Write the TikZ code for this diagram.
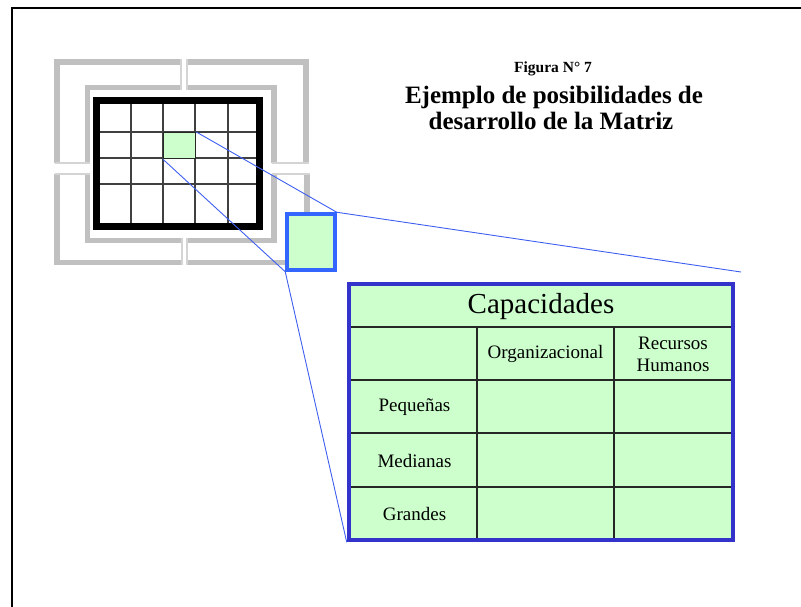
\documentclass[tikz,border=0pt]{standalone}
\usepackage{fontspec}
\setmainfont{Liberation Serif}
\definecolor{lgray}{HTML}{C0C0C0}
\definecolor{lgrayend}{HTML}{D4D4D4}
\definecolor{cellgreen}{HTML}{CCFFCC}
\definecolor{zblue}{HTML}{3366FF}
\definecolor{tblue}{HTML}{3333CC}
\definecolor{lblue}{HTML}{3F5FF0}
\begin{document}
\begin{tikzpicture}[x=1pt,y=-1pt,
  band/.style={draw=lgray,line width=5.5,line join=miter},
  bandend/.style={draw=lgrayend,line width=2.5},
  gridl/.style={draw=black!75,line width=1.3},
  tline/.style={draw=black!85,line width=1.3},
  conn/.style={draw=lblue,line width=0.9},
  lab/.style={font=\fontsize{19}{22}\selectfont,inner sep=0,align=center}]
\useasboundingbox (0,0) rectangle (801,607);
\clip (0,0) rectangle (801,607);
% outer frame (partially visible)
\draw[line width=2] (12,640) -- (12,8) -- (820,8);
% gray corner brackets
% top-left
\draw[band] (181,62) -- (57,62) -- (57,163);
\draw[band] (181,87.5) -- (87.5,87.5) -- (87.5,163);
\draw[bandend] (181,59.5) -- (181,90);
\draw[bandend] (54.5,163) -- (90,163);
% top-right
\draw[band] (187,62) -- (306,62) -- (306,163);
\draw[band] (187,87.5) -- (274,87.5) -- (274,163);
\draw[bandend] (187,59.5) -- (187,90);
\draw[bandend] (271.5,163) -- (308.5,163);
% bottom-left
\draw[band] (182,262.5) -- (57,262.5) -- (57,174);
\draw[band] (182,240.5) -- (87.5,240.5) -- (87.5,174);
\draw[bandend] (182,238) -- (182,265);
\draw[bandend] (54.5,174) -- (90,174);
% bottom-right
\draw[band] (187,262.5) -- (307,262.5) -- (307,174);
\draw[band] (187,240.5) -- (274,240.5) -- (274,174);
\draw[bandend] (187,238) -- (187,265);
\draw[bandend] (271.5,174) -- (309.5,174);
% matrix grid
\foreach \x in {131,163,195,228} \draw[gridl] (\x,104) -- (\x,223);
\foreach \y in {132,158,184} \draw[gridl] (100,\y) -- (257,\y);
\node[draw=black!85,fill=cellgreen,line width=1.3,minimum width=32,minimum height=26,inner sep=0,anchor=north west] (cell) at (163,132) {};
\draw[line width=7] (96.5,100.5) rectangle (259.5,226.5);
% magnified small box
\node[draw=zblue,fill=cellgreen,line width=3.5,minimum width=48,minimum height=56,inner sep=0] (zoom) at (311,242) {};
% big table
\node[draw=tblue,fill=cellgreen,line width=4.5,minimum width=384,minimum height=256,inner sep=0] (tbl) at (541,412) {};
\draw[tline] (351,327) -- (731,327);
\foreach \y in {380,433,487} \draw[tline] (351,\y) -- (731,\y);
\foreach \x in {477,614} \draw[tline] (\x,327) -- (\x,538);
\draw[draw=tblue,line width=4.5] (349,284) rectangle (733,540);
% connectors
\coordinate (rend) at (741,272);
\draw[conn] (cell.north east) -- (zoom.north east) -- (rend);
\draw[conn] (cell.south west) -- (zoom.south west) -- (tbl.south west);
% texts
\node[font=\fontsize{29}{34}\selectfont,inner sep=0] (cap) at (541,307) {Capacidades};
\node[lab] (org) at (545.5,354) {Organizacional};
\node[lab] (rh) at (673,354) {Recursos\\Humanos};
\node[lab] (peq) at (414.5,407) {Pequeñas};
\node[lab] (med) at (414.5,461) {Medianas};
\node[lab] (gra) at (414.5,514) {Grandes};
\node[font=\bfseries\fontsize{15.5}{18}\selectfont,inner sep=0,anchor=base] (fig) at (553,73) {Figura N° 7};
\node[font=\bfseries\fontsize{25}{26}\selectfont,inner sep=0,anchor=base] (t1) at (554,104) {Ejemplo de posibilidades de};
\node[font=\bfseries\fontsize{25}{26}\selectfont,inner sep=0,anchor=base] (t2) at (551,130) {desarrollo de la Matriz};
\end{tikzpicture}
\end{document}
